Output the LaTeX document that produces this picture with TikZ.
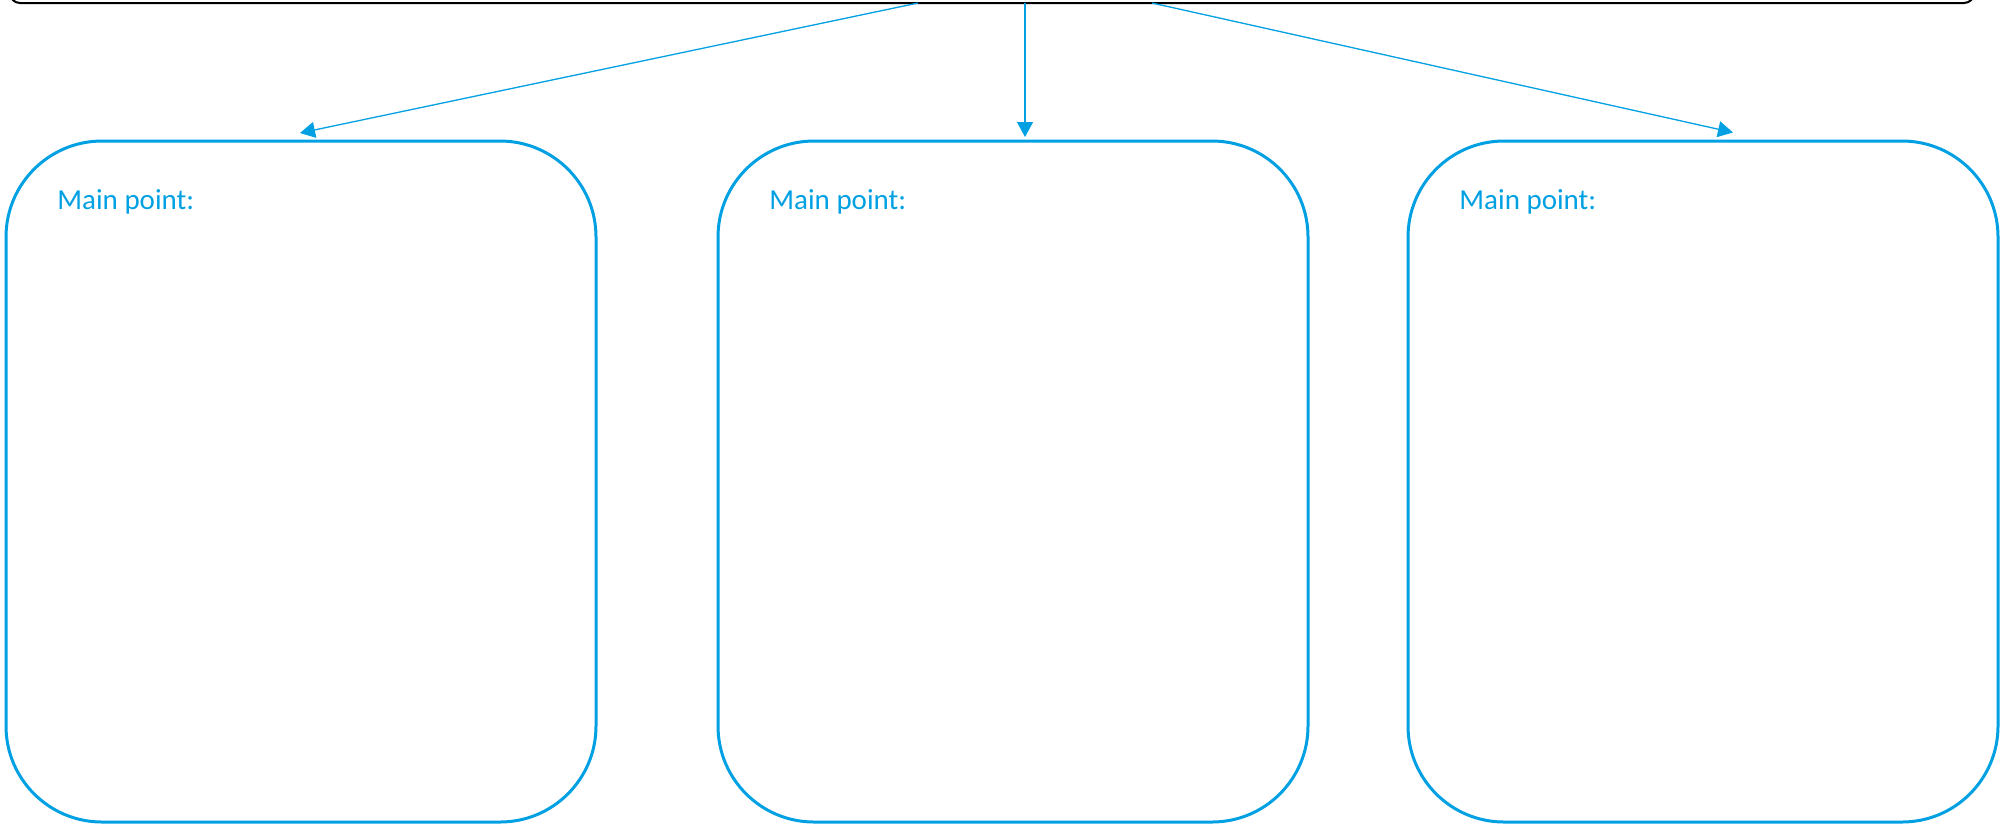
\documentclass[tikz,border=0pt]{standalone}
\usepackage{fontspec}
\setmainfont{Carlito}
\usetikzlibrary{arrows.meta}
\definecolor{cblue}{RGB}{0,160,227}
\begin{document}
\begin{tikzpicture}[x=0.5pt,y=-0.5pt,
  panel/.style={draw=cblue, line width=1.5pt, rounded corners=48pt, minimum width=295pt, minimum height=340.5pt, inner sep=0pt, outer sep=0pt, anchor=north west},
  plabel/.style={text=cblue, font=\fontsize{14.5}{17}\selectfont, anchor=base west, inner sep=0pt},
  conn/.style={draw=cblue, line width=0.65pt, -{Triangle[length=7.5pt,width=8pt]}},
  topbox/.style={draw=black, line width=1pt, rounded corners=5pt, minimum width=982pt, minimum height=31.5pt, inner sep=0pt, outer sep=0pt},
]
\useasboundingbox (0,0) rectangle (2000,827);
\clip (0,0) rectangle (2000,827);
\node[topbox] (top) at (992,-28.5) {};
\node[panel] (p1) at (6,141) {};
\node[panel] (p2) at (718,141) {};
\node[panel] (p3) at (1408,141) {};
\node[plabel] (t1) at ([xshift=25.5pt,yshift=-34pt]p1.north west) {Main point:};
\node[plabel] (t2) at ([xshift=25.5pt,yshift=-34pt]p2.north west) {Main point:};
\node[plabel] (t3) at ([xshift=25.5pt,yshift=-34pt]p3.north west) {Main point:};
\coordinate (e1) at ([xshift=-0.5pt,yshift=4pt]p1.north);
\coordinate (e2) at ([xshift=6pt,yshift=2pt]p2.north);
\coordinate (e3) at ([xshift=15pt,yshift=4.25pt]p3.north);
\draw[conn] ([xshift=-37pt]top.south) -- (e1);
\draw[conn] (e2 |- top.south) -- (e2);
\draw[conn] ([xshift=80pt]top.south) -- (e3);
\end{tikzpicture}
\end{document}
